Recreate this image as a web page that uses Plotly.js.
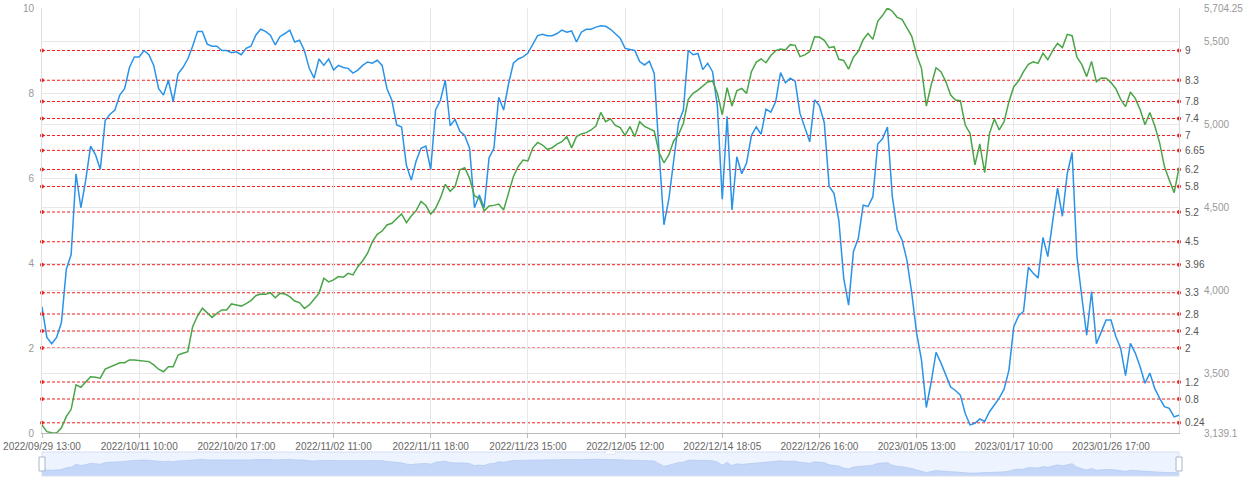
<!DOCTYPE html>
<html>
<head>
<meta charset="utf-8">
<script src="https://cdn.plot.ly/plotly-3.0.1.min.js"></script>
<style>
  html, body { margin: 0; padding: 0; background: #fff; }
  #chart { width: 1251px; height: 480px; }
</style>
</head>
<body>
<div id="chart"></div>
<script>
// ---- data ----
const tickLabels = ['2022/09/29 13:00','2022/10/11 10:00','2022/10/20 17:00','2022/11/02 11:00',
  '2022/11/11 18:00','2022/11/23 15:00','2022/12/05 12:00','2022/12/14 18:05',
  '2022/12/26 16:00','2023/01/05 13:00','2023/01/17 10:00','2023/01/26 17:00'];
const tickStep = 20;

// left axis series (blue)
const blueSeries = [
  2.97,2.25,2.1,2.25,2.6,3.85,4.2,6.1,5.3,5.95,
  6.75,6.55,6.2,7.35,7.5,7.6,7.95,8.1,8.6,8.85,
  8.85,9.0,8.9,8.65,8.1,7.95,8.3,7.8,8.45,8.6,
  8.8,9.1,9.45,9.45,9.15,9.1,9.1,9.0,9.0,8.95,
  8.97,8.9,9.05,9.1,9.36,9.5,9.45,9.36,9.13,9.33,
  9.4,9.48,9.2,9.24,9.0,8.58,8.35,8.8,8.65,8.8,
  8.54,8.65,8.6,8.58,8.47,8.54,8.65,8.73,8.7,8.77,
  8.65,8.1,7.83,7.25,7.2,6.3,5.95,6.4,6.7,6.75,
  6.2,7.6,7.83,8.3,7.23,7.38,7.1,7.0,6.7,5.3,
  5.6,5.3,6.47,6.7,7.9,7.6,8.2,8.7,8.8,8.85,
  8.94,9.15,9.35,9.38,9.35,9.35,9.4,9.48,9.43,9.46,
  9.2,9.43,9.5,9.5,9.55,9.58,9.57,9.5,9.4,9.29,
  9.05,9.02,9.0,8.74,8.66,8.75,8.46,6.6,4.9,5.5,
  6.4,7.3,7.6,9.0,8.9,8.93,8.55,8.7,8.5,7.68,
  5.5,7.45,5.25,6.5,6.1,6.35,7.0,7.2,7.03,7.62,
  7.55,7.8,8.48,8.24,8.35,8.28,7.52,7.2,6.85,7.84,
  7.7,7.3,5.8,5.64,5.0,3.64,3.01,4.27,4.58,5.36,
  5.33,5.56,6.8,6.93,7.2,5.56,4.78,4.54,4.07,3.29,
  2.35,1.72,0.6,1.2,1.9,1.65,1.36,1.08,1.0,0.89,
  0.46,0.19,0.23,0.33,0.27,0.5,0.66,0.82,1.03,1.48,
  2.5,2.76,2.86,3.9,3.76,3.65,4.6,4.15,4.98,5.76,
  5.1,6.1,6.6,4.15,3.2,2.3,3.33,2.1,2.38,2.66,
  2.66,2.27,1.99,1.35,2.11,1.88,1.56,1.17,1.41,1.05,
  0.82,0.62,0.58,0.38,0.42
];

// right axis series (green)
const greenSeries = [
  3187,3147,3141,3139.1,3171,3238,3282,3430,3415,3449,
  3479,3475,3470,3525,3539,3554,3563,3563,3580,3580,
  3576,3570,3570,3550,3524,3509,3539,3539,3610,3620,
  3630,3781,3845,3892,3865,3837,3862,3882,3882,3918,
  3912,3905,3920,3938,3968,3978,3976,3986,3955,3982,
  3978,3962,3936,3926,3890,3912,3946,3982,4073,4051,
  4063,4083,4079,4103,4093,4143,4179,4224,4294,4338,
  4358,4395,4405,4435,4461,4409,4449,4481,4537,4512,
  4460,4495,4558,4640,4598,4626,4727,4740,4676,4570,
  4556,4480,4509,4513,4521,4485,4580,4686,4747,4787,
  4781,4859,4893,4877,4851,4861,4883,4897,4928,4860,
  4928,4944,4952,4968,4992,5074,5018,5035,4995,4982,
  4936,4988,4928,5018,4990,4976,4962,4831,4770,4817,
  4902,4940,5008,5153,5189,5209,5235,5258,5264,5189,
  5060,5223,5113,5205,5219,5189,5320,5378,5397,5374,
  5417,5447,5457,5451,5483,5479,5411,5421,5441,5531,
  5529,5509,5465,5471,5395,5388,5335,5407,5443,5513,
  5551,5515,5624,5660,5704.25,5685,5648,5636,5585,5533,
  5421,5340,5113,5240,5344,5320,5260,5179,5149,5145,
  4998,4948,4757,4884,4710,4948,5034,4968,5018,5139,
  5229,5264,5320,5364,5380,5370,5431,5392,5447,5491,
  5465,5545,5537,5407,5362,5290,5382,5260,5282,5280,
  5254,5217,5153,5109,5197,5159,5091,5000,5074,4994,
  4892,4747,4666,4590,4737
];

// red reference levels (left axis)
const markLevels = [9, 8.3, 7.8, 7.4, 7, 6.65, 6.2, 5.8, 5.2, 4.5, 3.96, 3.3, 2.8, 2.4, 2, 1.2, 0.8, 0.24];

// axis ticks
const leftTicks = [0, 2, 4, 6, 8, 10];
const rightTickVals = [3139.1, 3500, 4000, 4500, 5000, 5500, 5704.25];
const rightTickText = ['3,139.1', '3,500', '4,000', '4,500', '5,000', '5,500', '5,704.25'];

// ---- build ----
const N = blueSeries.length;
const xIdx = blueSeries.map((_, i) => i);
const lastX = N - 1;
const tickVals = tickLabels.map((_, k) => k * tickStep);

const FONT = 'Liberation Sans, Arial, sans-serif';
const RED = 'rgb(240,30,30)';
const GRID = '#e8e8e8';

const traces = [];

traces.push({
  x: xIdx, y: blueSeries, type: 'scatter', mode: 'lines',
  xaxis: 'x', yaxis: 'y',
  line: { color: '#2a93e8', width: 1.5 }, hoverinfo: 'skip'
});
traces.push({
  x: xIdx, y: greenSeries, type: 'scatter', mode: 'lines',
  xaxis: 'x', yaxis: 'y2',
  line: { color: '#4aa548', width: 1.5 }, hoverinfo: 'skip'
});

// end dots for reference lines
const dotX = [], dotY = [];
markLevels.forEach(v => { dotX.push(0, lastX); dotY.push(v, v); });
traces.push({
  x: dotX, y: dotY, type: 'scatter', mode: 'markers',
  xaxis: 'x', yaxis: 'y', cliponaxis: false,
  marker: { color: RED, size: 4 }, hoverinfo: 'skip'
});

// slider data shadow
const sliderBase = -1.8;
traces.push({
  x: [0, lastX], y: [sliderBase, sliderBase], type: 'scatter', mode: 'lines',
  xaxis: 'x2', yaxis: 'y3', line: { width: 0, color: 'rgba(0,0,0,0)' }, hoverinfo: 'skip'
});
traces.push({
  x: xIdx, y: blueSeries, type: 'scatter', mode: 'lines',
  xaxis: 'x2', yaxis: 'y3', fill: 'tonexty',
  fillcolor: 'rgba(200,216,246,0.85)',
  line: { color: 'rgba(176,198,238,1)', width: 0.6 }, hoverinfo: 'skip'
});

const shapes = markLevels.map(v => ({
  type: 'line', xref: 'x', yref: 'y', x0: 0, x1: lastX, y0: v, y1: v,
  line: { color: RED, width: 1, dash: '3px,2px' }, layer: 'below'
}));

const PH = 468; // paper height in px (480 - t - b)
const pf = px => (476 - px) / PH; // screen y px -> paper fraction

// slider band
shapes.push({
  type: 'rect', xref: 'paper', yref: 'paper', x0: 0, x1: 1, y0: pf(476), y1: pf(452),
  fillcolor: 'rgba(135,175,255,0.14)', line: { color: '#d6deef', width: 1 }, layer: 'above'
});
// handles
[0, 1].forEach(a => shapes.push({
  type: 'rect', xref: 'paper', yref: 'paper', xsizemode: 'pixel', xanchor: a,
  x0: -3, x1: 3, y0: pf(471), y1: pf(457),
  fillcolor: '#ffffff', line: { color: '#a7b7cc', width: 1 }, layer: 'above'
}));
// move handle
shapes.push({
  type: 'rect', xref: 'paper', yref: 'paper', xsizemode: 'pixel', xanchor: 0.5,
  x0: -5, x1: 5, y0: pf(454), y1: pf(451),
  fillcolor: '#ffffff', line: { color: '#d2dbee', width: 0.5 }, layer: 'above'
});

const annotations = markLevels.map(v => ({
  xref: 'paper', yref: 'y', x: 1, y: v, xshift: 4, xanchor: 'left', yanchor: 'middle',
  text: String(v), showarrow: false, font: { family: FONT, size: 10, color: '#555' }
}));

const layout = {
  width: 1251, height: 480,
  margin: { l: 42, r: 72, t: 8, b: 4 },
  paper_bgcolor: '#ffffff', plot_bgcolor: '#ffffff',
  showlegend: false, hovermode: false,
  font: { family: FONT, size: 10, color: '#777' },
  xaxis: {
    domain: [0, 1], anchor: 'y', range: [0, lastX],
    tickmode: 'array', tickvals: tickVals, ticktext: tickLabels,
    showgrid: true, gridcolor: GRID, gridwidth: 1,
    ticks: 'outside', ticklen: 4, tickcolor: '#bbb',
    showline: true, linecolor: '#bbb', linewidth: 1, zeroline: false,
    tickfont: { family: FONT, size: 10, color: '#666' }
  },
  yaxis: {
    domain: [pf(433), 1], anchor: 'x', range: [0, 10],
    tickmode: 'array', tickvals: leftTicks,
    showgrid: true, gridcolor: GRID, zeroline: false,
    showline: true, linecolor: '#e0e0e0',
    ticks: '', ticklabelstandoff: 5,
    tickfont: { family: FONT, size: 10, color: '#999' }
  },
  yaxis2: {
    overlaying: 'y', side: 'right', anchor: 'x', range: [3139.1, 5704.25],
    tickmode: 'array', tickvals: rightTickVals, ticktext: rightTickText,
    showgrid: true, gridcolor: GRID, zeroline: false,
    showline: true, linecolor: '#d8d8d8',
    ticks: '', ticklabelstandoff: 22,
    tickfont: { family: FONT, size: 10, color: '#999' }
  },
  xaxis2: {
    domain: [0, 1], anchor: 'y3', range: [0, lastX],
    showticklabels: false, showgrid: false, zeroline: false, showline: false, ticks: ''
  },
  yaxis3: {
    domain: [0, pf(452)], anchor: 'x2', range: [sliderBase, 14.5],
    showticklabels: false, showgrid: false, zeroline: false, showline: false, ticks: ''
  },
  shapes: shapes,
  annotations: annotations
};

Plotly.newPlot('chart', traces, layout, { staticPlot: true, displayModeBar: false });
</script>
</body>
</html>
